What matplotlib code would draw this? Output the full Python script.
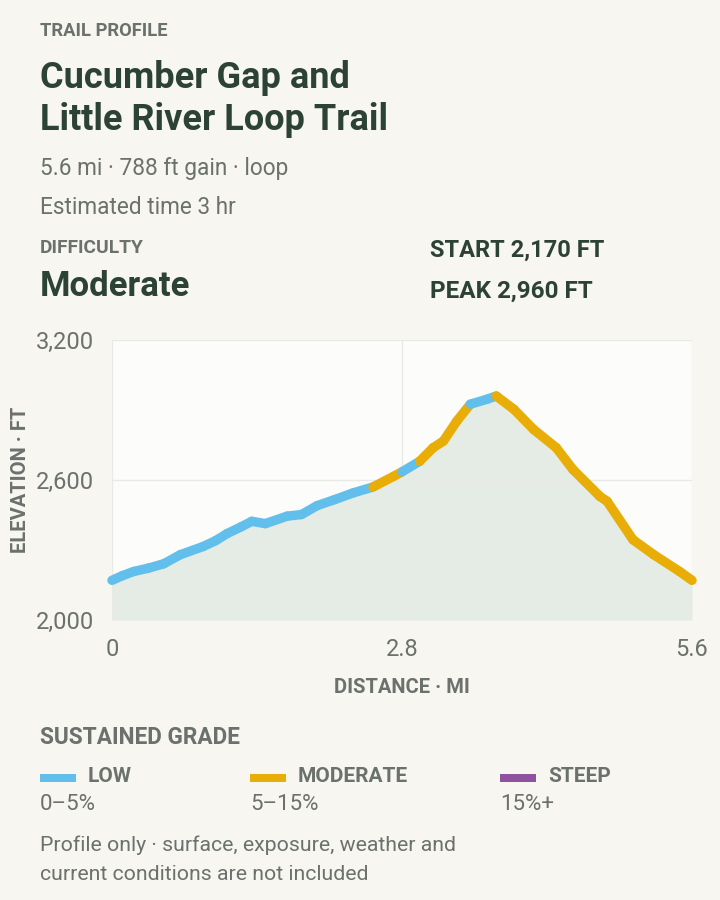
import matplotlib
matplotlib.use("Agg")
import matplotlib.pyplot as plt
from matplotlib.collections import LineCollection
import numpy as np

plt.rcParams['font.family'] = ['Roboto', 'DejaVu Sans']

# trail profile
distance_mi = [0, 0.10, 0.21, 0.35, 0.50, 0.66, 0.88, 1.00, 1.11, 1.25, 1.35, 1.48,
               1.69, 1.83, 1.98, 2.15, 2.33, 2.52, 2.72, 2.80, 2.97, 3.10, 3.20,
               3.33, 3.46, 3.62, 3.71, 3.88, 4.07, 4.29, 4.45, 4.71, 4.78, 5.03,
               5.23, 5.48, 5.60]
elevation_ft = [2170, 2190, 2208, 2222, 2241, 2280, 2315, 2340, 2370, 2400, 2423, 2413,
                2445, 2452, 2490, 2516, 2545, 2570, 2616, 2635, 2680, 2738, 2767,
                2853, 2925, 2946, 2960, 2903, 2817, 2738, 2645, 2530, 2509, 2344,
                2280, 2208, 2170]
# grade class of each segment between two points
segment_grade = (['low'] * 17 + ['moderate'] * 2 + ['low'] + ['moderate'] * 4 +
                 ['low'] * 2 + ['moderate'] * 10)

grade_names = ['low', 'moderate', 'steep']
grade_labels = ['LOW', 'MODERATE', 'STEEP']
grade_ranges = ['0–5%', '5–15%', '15%+']
grade_colors = {'low': '#62bfeb', 'moderate': '#e8ad06', 'steep': '#8f529f'}

x_ticks = [0, 2.8, 5.6]
x_tick_labels = ['0', '2.8', '5.6']
y_ticks = [2000, 2600, 3200]
y_tick_labels = ['2,000', '2,600', '3,200']

BG = '#f7f6f1'
DARK = '#2d4236'
GRAY = '#6b716c'
W, H = 720, 900

fig = plt.figure(figsize=(7.2, 9), dpi=100, facecolor=BG)


def px(x, y):
    return x / W, 1 - y / H


def label(x, y, s, size, color, weight='normal', **kw):
    fig.text(*px(x, y), s, fontsize=size, color=color, fontweight=weight,
             va='center', ha='left', **kw)


label(40, 31, 'TRAIL PROFILE', 13.2, GRAY, 'bold')
label(40, 78, 'Cucumber Gap and', 26, DARK, 'bold')
label(40, 120, 'Little River Loop Trail', 26, DARK, 'bold')
label(40, 169, '5.6 mi · 788 ft gain · loop', 16.3, GRAY)
label(40, 207, 'Estimated time 3 hr', 16.3, GRAY)
label(40, 248, 'DIFFICULTY', 13.8, GRAY, 'bold')
label(40, 287, 'Moderate', 25, DARK, 'bold')
label(430, 250, 'START 2,170 FT', 17, DARK, 'bold')
label(430, 291, 'PEAK 2,960 FT', 17.5, DARK, 'bold')

# chart
ax = fig.add_axes([112 / W, 1 - 620 / H, 580 / W, 280 / H])
ax.set_facecolor('#fcfcfa')
ax.fill_between(distance_mi, elevation_ft, 2000, color='#e4ece5', lw=0, zorder=1)

pts = np.column_stack([distance_mi, elevation_ft])
segs = np.stack([pts[:-1], pts[1:]], axis=1)
lc = LineCollection(segs, colors=[grade_colors[g] for g in segment_grade],
                    linewidths=6.8, capstyle='round', joinstyle='round', zorder=3)
lc.set_clip_on(False)
ax.add_collection(lc)

ax.set_xlim(0, 5.6)
ax.set_ylim(2000, 3200)
ax.set_xticks(x_ticks, x_tick_labels)
ax.set_yticks(y_ticks, y_tick_labels)
ax.grid(True, color='#e9e9e5', lw=1, zorder=0)
for s in ax.spines.values():
    s.set_visible(False)
ax.tick_params(length=0, labelsize=17, labelcolor=GRAY, pad=13)
ax.set_xlabel('DISTANCE · MI', fontsize=14.5, fontweight='bold', color=GRAY, labelpad=12)
ax.set_ylabel('ELEVATION · FT', fontsize=14.5, fontweight='bold', color=GRAY, labelpad=4)

# legend
legend_x = [40, 250, 500]
label(40, 738, 'SUSTAINED GRADE', 16.3, GRAY, 'bold')
for i, name in enumerate(grade_names):
    x0 = legend_x[i]
    fig.patches.append(plt.Rectangle(px(x0, 782), 36 / W, 8 / H, transform=fig.transFigure,
                                     color=grade_colors[name], lw=0))
    label(x0 + 48, 777, grade_labels[i], 15, GRAY, 'bold')
    label(x0, 805, grade_ranges[i], 16, GRAY)

label(40, 845, 'Profile only · surface, exposure, weather and', 15.3, GRAY)
label(40, 875, 'current conditions are not included', 15.3, GRAY)

fig.savefig('out.png', dpi=100, facecolor=BG)
